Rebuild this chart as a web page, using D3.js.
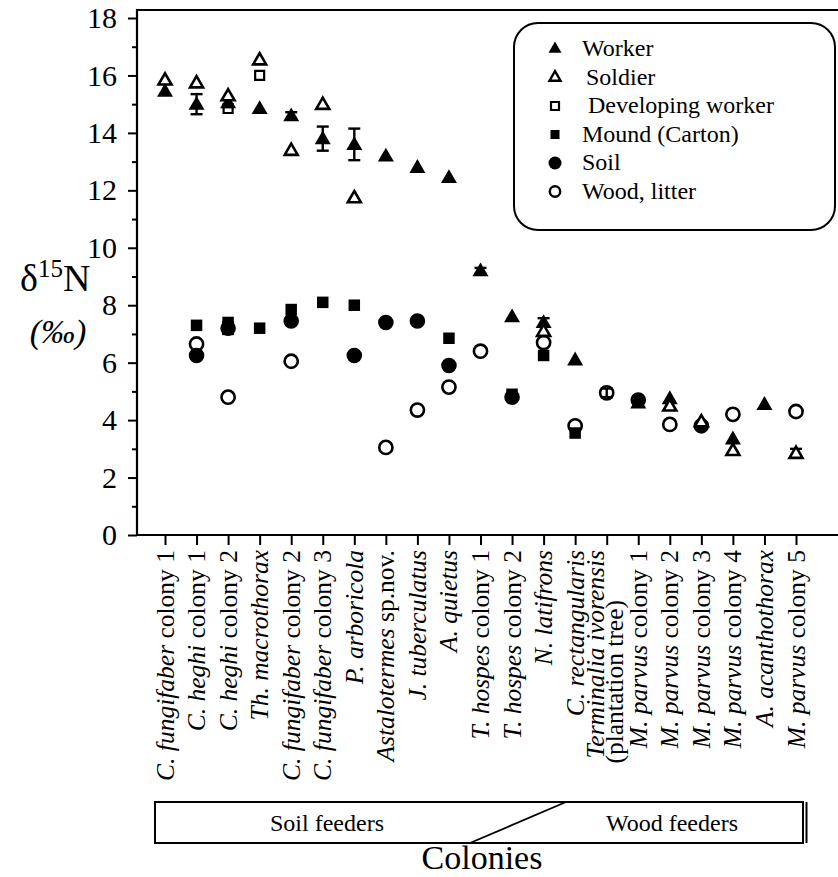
<!DOCTYPE html>
<html><head><meta charset="utf-8">
<script src="https://cdn.jsdelivr.net/npm/d3@7"></script>
<style>body{margin:0;background:#fff}svg{display:block}</style>
</head><body><svg id="c" width="838" height="877" style="font-family:'Liberation Serif','DejaVu Serif',serif"></svg>
<script>
const species = ["C. fungifaber","C. heghi","C. heghi","Th. macrothorax","C. fungifaber","C. fungifaber","P. arboricola","Astalotermes","J. tuberculatus","A. quietus","T. hospes","T. hospes","N. latifrons","C. rectangularis","Terminalia ivorensis","M. parvus","M. parvus","M. parvus","M. parvus","A. acanthothorax","M. parvus"];
const suffixes = [" colony 1"," colony 1"," colony 2",""," colony 2"," colony 3",""," sp.nov.","",""," colony 1"," colony 2","","",""," colony 1"," colony 2"," colony 3"," colony 4",""," colony 5"];
const secondLine = ["","","","","","","","","","","","","","","(plantation tree)","","","","","",""];
const categories = species.map((s,i)=>"c"+i);

const worker    = [15.45,15.0,15.05,14.85,14.6,13.8,13.6,13.2,12.8,12.45,9.2,7.6,7.4,6.1,null,4.6,4.75,null,3.35,4.55,null];
const soldier   = [15.85,15.75,15.3,16.55,13.4,15.0,11.75,null,null,null,null,null,7.1,null,null,null,4.5,3.95,2.95,null,2.85];
const devWorker = [null,null,14.85,16.0,null,null,null,null,null,null,null,null,null,null,null,null,null,null,null,null,null];
const mound     = [null,7.3,7.4,7.2,7.85,8.1,8.0,null,null,6.85,null,4.9,6.25,3.55,null,null,null,null,null,null,null];
const soil      = [null,6.25,7.2,null,7.45,null,6.25,7.4,7.45,5.9,null,4.8,null,null,null,4.7,null,3.8,null,null,null];
const wood      = [null,6.65,4.8,null,6.05,null,null,3.05,4.35,5.15,6.4,null,6.7,3.8,4.95,null,3.85,null,4.2,null,4.3];
// error bars: [category index, centre, half-range]
const errorBars = [[1,15.0,0.35],[2,15.05,0.15],[2,7.2,0.2],[4,14.6,0.12],[5,13.8,0.42],[6,13.6,0.55],[10,9.2,0.1],[12,7.4,0.15],[14,4.95,0.15],[20,2.85,0.15]];
const yTicks = [0,2,4,6,8,10,12,14,16,18];
const yMinor = [1,3,5,7,9,11,13,15,17];
const legendItems = ["Worker","Soldier","Developing worker","Mound (Carton)","Soil","Wood, litter"];
const groupLabels = ["Soil feeders","Wood feeders"];

const FONT = "'Liberation Serif','DejaVu Serif',serif";
const svg = d3.select("#c");
const x = d3.scalePoint().domain(categories).range([165,796]);
const y = d3.scaleLinear().domain([0,18]).range([535,18]);
const X0 = 137, X1 = 838, TOP = 10;

svg.append("line").attr("x1",X0).attr("x2",X1).attr("y1",TOP).attr("y2",TOP).attr("stroke","#000").attr("stroke-width",2);

const yAx = svg.append("g").attr("transform",`translate(${X0},0)`)
  .call(d3.axisLeft(y).tickValues(yTicks).tickSize(9).tickFormat(d3.format("d")));
yAx.attr("font-family",FONT);
yAx.select(".domain").remove();
yAx.selectAll("line").attr("stroke-width",2);
yAx.selectAll("text").attr("font-size",30).attr("style",`font-family:${FONT}`).attr("dx","-8").attr("fill","#000");
const yAxM = svg.append("g").attr("transform",`translate(${X0},0)`)
  .call(d3.axisLeft(y).tickValues(yMinor).tickSize(5).tickFormat(""));
yAxM.select(".domain").remove();
yAxM.selectAll("line").attr("stroke-width",2);
svg.append("line").attr("x1",X0).attr("x2",X0).attr("y1",TOP-1).attr("y2",y(0)).attr("stroke","#000").attr("stroke-width",2.2);

const xAx = svg.append("g").attr("transform",`translate(0,${y(0)})`)
  .call(d3.axisBottom(x).tickSize(10).tickFormat(""));
xAx.select(".domain").remove();
xAx.selectAll("line").attr("stroke-width",2);
svg.append("line").attr("x1",X0-1).attr("x2",X1).attr("y1",y(0)).attr("y2",y(0)).attr("stroke","#000").attr("stroke-width",2.2);

function txt(sel){ return sel.append("text").attr("style",`font-family:${FONT}`).attr("fill","#000"); }

// x labels
categories.forEach((c,i)=>{
  const g = svg.append("g").attr("transform",`translate(${x(c)},550) rotate(-90)`);
  const two = secondLine[i] !== "";
  const t = txt(g).attr("text-anchor","end").attr("font-size",25.5)
    .attr("x",0).attr("y", two ? -3 : 8.5);
  t.append("tspan").attr("font-style","italic").text(species[i]);
  if (suffixes[i]) t.append("tspan").text(suffixes[i]);
  if (two) txt(g).attr("text-anchor","end").attr("font-size",25.5).attr("x",-50).attr("y",16).text(secondLine[i]);
});

// y title
const yt = txt(svg).attr("x",20).attr("y",291).attr("font-size",38);
yt.append("tspan").text("δ");
yt.append("tspan").attr("font-size",25).attr("dy",-14).text("15");
yt.append("tspan").attr("dy",14).text("N");
txt(svg).attr("x",58).attr("y",343).attr("text-anchor","middle").attr("font-size",34).attr("font-style","italic").text("(‰)");

// markers
const tri = (a)=>d3.symbol(d3.symbolTriangle, a*a*Math.sqrt(3)/4)();
const sq = (a)=>d3.symbol(d3.symbolSquare, a*a)();
const circ = (r)=>d3.symbol(d3.symbolCircle, Math.PI*r*r)();
const styles = {
  worker:{path:tri(16), fill:"#000", stroke:"none", sw:0},
  soldier:{path:tri(13), fill:"#fff", stroke:"#000", sw:2.6},
  dev:{path:sq(9), fill:"#fff", stroke:"#000", sw:2.2},
  mound:{path:sq(11.5), fill:"#000", stroke:"none", sw:0},
  soil:{path:circ(7.8), fill:"#000", stroke:"none", sw:0},
  wood:{path:circ(6.6), fill:"#fff", stroke:"#000", sw:2.6}
};
function drawSeries(vals, st, dyOff){
  svg.append("g").selectAll("path").data(vals.map((v,i)=>[i,v]).filter(d=>d[1]!==null)).join("path")
    .attr("d",st.path).attr("transform",d=>`translate(${x(categories[d[0]])},${y(d[1])+(dyOff||0)})`)
    .attr("fill",st.fill).attr("stroke",st.stroke).attr("stroke-width",st.sw);
}
drawSeries(wood, styles.wood);
drawSeries(mound, styles.mound);
drawSeries(soil, styles.soil);
drawSeries(devWorker, styles.dev);
drawSeries(worker, styles.worker, 1);
const eb = svg.append("g").attr("stroke","#000").attr("stroke-width",2.4);
errorBars.forEach(([i,c,h])=>{
  const cx = x(categories[i]);
  eb.append("line").attr("x1",cx).attr("x2",cx).attr("y1",y(c+h)).attr("y2",y(c-h));
  eb.append("line").attr("x1",cx-6).attr("x2",cx+6).attr("y1",y(c+h)).attr("y2",y(c+h));
  eb.append("line").attr("x1",cx-6).attr("x2",cx+6).attr("y1",y(c-h)).attr("y2",y(c-h));
});
drawSeries(soldier, styles.soldier, 1);

// legend
svg.append("rect").attr("x",514).attr("y",23).attr("width",321).attr("height",207).attr("rx",24)
  .attr("fill","#fff").attr("stroke","#000").attr("stroke-width",2);
const legStyles = [
  {path:tri(13), fill:"#000", stroke:"none", sw:0},
  {path:tri(11), fill:"#fff", stroke:"#000", sw:2.4},
  {path:sq(8), fill:"#fff", stroke:"#000", sw:2.2},
  {path:sq(9), fill:"#000", stroke:"none", sw:0},
  {path:circ(6.5), fill:"#000", stroke:"none", sw:0},
  {path:circ(5.2), fill:"#fff", stroke:"#000", sw:2.4}
];
const legTextX = [582,586,588,582,582,582];
legendItems.forEach((t,i)=>{
  const yy = 48 + i*28.5;
  svg.append("path").attr("d",legStyles[i].path).attr("transform",`translate(555,${yy+1})`)
    .attr("fill",legStyles[i].fill).attr("stroke",legStyles[i].stroke).attr("stroke-width",legStyles[i].sw);
  txt(svg).attr("x",legTextX[i]).attr("y",yy+8).attr("font-size",24).text(t);
});

// group box
const bx0=155, bx1=803, by0=802, by1=843;
svg.append("rect").attr("x",bx0).attr("y",by0).attr("width",bx1-bx0).attr("height",by1-by0).attr("fill","none").attr("stroke","#000").attr("stroke-width",2);
svg.append("line").attr("x1",bx1+3.5).attr("x2",bx1+3.5).attr("y1",by0).attr("y2",by1).attr("stroke","#000").attr("stroke-width",2);
svg.append("line").attr("x1",470).attr("y1",by1).attr("x2",566).attr("y2",by0).attr("stroke","#000").attr("stroke-width",1.8);
txt(svg).attr("x",327).attr("y",831).attr("text-anchor","middle").attr("font-size",24).text(groupLabels[0]);
txt(svg).attr("x",672).attr("y",831).attr("text-anchor","middle").attr("font-size",24).text(groupLabels[1]);
txt(svg).attr("x",482).attr("y",869).attr("text-anchor","middle").attr("font-size",34).text("Colonies");
</script></body></html>
